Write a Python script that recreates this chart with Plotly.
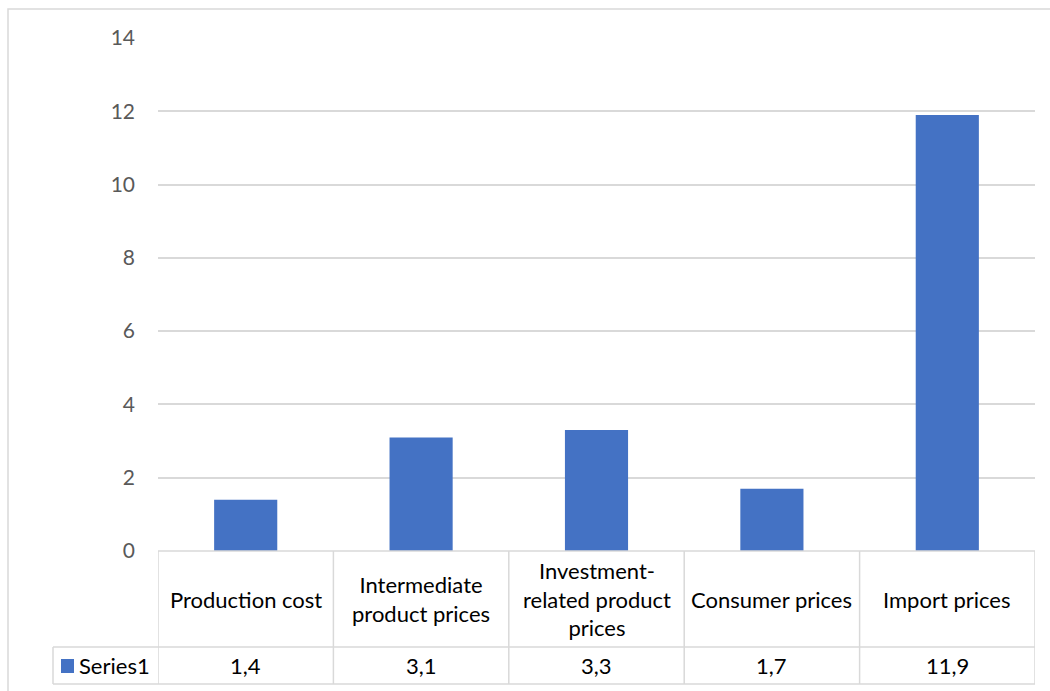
import plotly.graph_objects as go

# Price indices by category
categories = ["Production cost", "Intermediate product prices",
              "Investment-related product prices", "Consumer prices", "Import prices"]
category_labels = ["Production cost", "Intermediate<br>product prices",
                   "Investment-<br>related product<br>prices", "Consumer prices", "Import prices"]
series_name = "Series1"
values = [1.4, 3.1, 3.3, 1.7, 11.9]
y_ticks = [0, 2, 4, 6, 8, 10, 12, 14]

BAR = "#4472C4"
GRID = "#D9D9D9"
FONT = "Lato, 'Open Sans', sans-serif"
TXT = 22

W, H = 1050, 691
L, R, T, B = 158, 15, 38, 140
pw, ph = W - L - R, H - T - B


def px_x(x):
    return (x - L) / pw


def px_y(y):
    return (H - B - y) / ph


fig = go.Figure(go.Bar(
    x=list(range(len(categories))), y=values, width=0.36,
    marker=dict(color=BAR, line=dict(width=0)), name=series_name,
    hoverinfo="skip",
))

shapes = []
annotations = []
line = dict(color=GRID, width=1.5)

# outer chart border
shapes.append(dict(type="rect", xref="paper", yref="paper",
                   x0=px_x(8), x1=px_x(1060), y0=px_y(700), y1=px_y(9),
                   line=line, fillcolor="rgba(0,0,0,0)", layer="below"))

# data table grid
y_top, y_mid, y_bot = 0, px_y(647), px_y(684)
shapes.append(dict(type="line", xref="x", yref="paper", x0=-0.5, x1=len(categories) - 0.5,
                   y0=y_top, y1=y_top, line=line))
shapes.append(dict(type="line", xref="paper", yref="paper", x0=px_x(53), x1=1,
                   y0=y_mid, y1=y_mid, line=line))
shapes.append(dict(type="line", xref="paper", yref="paper", x0=px_x(53), x1=1,
                   y0=y_bot, y1=y_bot, line=line))
shapes.append(dict(type="line", xref="paper", yref="paper", x0=px_x(53), x1=px_x(53),
                   y0=y_mid, y1=y_bot, line=line))
for i in range(len(categories) + 1):
    shapes.append(dict(type="line", xref="x", yref="paper", x0=i - 0.5, x1=i - 0.5,
                       y0=y_top, y1=y_bot, line=line))

# header cells and value cells
for i, (lab, v) in enumerate(zip(category_labels, values)):
    annotations.append(dict(x=i, y=(y_top + y_mid) / 2, xref="x", yref="paper",
                            xanchor="center", yanchor="middle",
                            text=lab, showarrow=False, align="center",
                            font=dict(family=FONT, size=TXT, color="#000000")))
    annotations.append(dict(x=i, y=(y_mid + y_bot) / 2, xref="x", yref="paper",
                            xanchor="center", yanchor="middle",
                            text=f"{v:.1f}".replace(".", ","), showarrow=False,
                            font=dict(family=FONT, size=TXT, color="#000000")))

# legend key in the series row
shapes.append(dict(type="rect", xref="paper", yref="paper",
                   x0=px_x(61), x1=px_x(74), y0=px_y(673), y1=px_y(659),
                   fillcolor=BAR, line=dict(width=0)))
annotations.append(dict(x=px_x(77), y=(y_mid + y_bot) / 2, xref="paper", yref="paper",
                        xanchor="left", yanchor="middle", text=series_name, showarrow=False,
                        font=dict(family=FONT, size=TXT, color="#000000")))

fig.update_layout(
    width=W, height=H,
    margin=dict(l=L, r=R, t=T, b=B),
    paper_bgcolor="white", plot_bgcolor="white",
    showlegend=False,
    shapes=shapes, annotations=annotations,
    xaxis=dict(range=[-0.5, len(categories) - 0.5], showticklabels=False,
               showgrid=False, zeroline=False, showline=False, fixedrange=True),
    yaxis=dict(range=[0, 14], tickvals=y_ticks, showgrid=True, gridcolor=GRID,
               gridwidth=1.5, zeroline=False, showline=False, ticklabelstandoff=22,
               tickfont=dict(family=FONT, size=21, color="#595959"), fixedrange=True),
)

fig.write_html("out.html")
